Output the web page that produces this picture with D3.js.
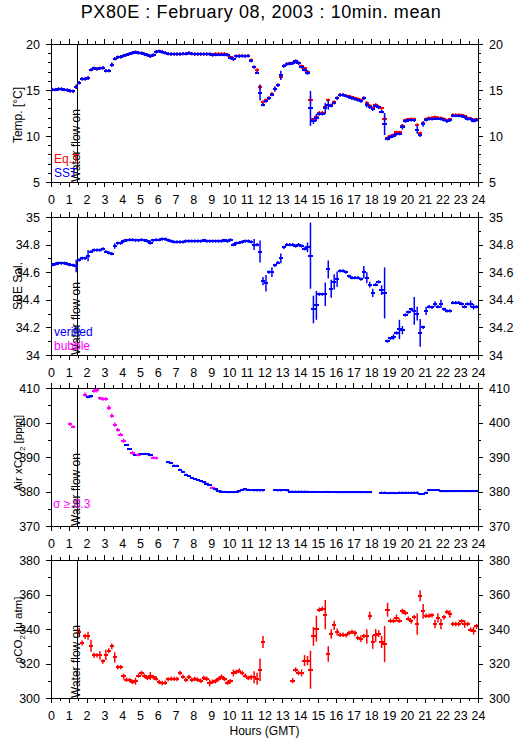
<!DOCTYPE html>
<html><head><meta charset="utf-8">
<script src="https://cdn.jsdelivr.net/npm/d3@7/dist/d3.min.js"></script>
<style>
body{margin:0;background:#fff}
svg{display:block}
text{font-family:"Liberation Sans",Arial,Helvetica,sans-serif}
</style>
</head><body>
<svg id="c" width="515" height="739"></svg>
<script>
// ---------- DATA (10-minute means, index i covers hours i/6 .. (i+1)/6) ----------
const hourTicks = d3.range(0, 25);
const halfTicks = d3.range(0.5, 24, 1);
const waterFlowOn = 1.5;

const sst = [
15.05,15.05,15.1,15.1,15.05,15.0, 14.9,14.85,15.35,15.8,16.2,16.2,
16.3,17.2,17.35,17.3,17.35,17.4, 17.1,17.1,17.75,18.4,18.55,18.6,
18.75,18.85,18.95,19.05,19.1,19.05, 19.0,18.9,18.8,18.65,18.8,19.15,
19.2,19.15,19.05,18.95,18.9,18.9, 18.9,18.9,18.95,18.95,19.0,18.95,
18.9,18.9,18.9,18.9,18.9,18.9, 18.8,18.85,18.85,18.85,18.85,18.8,
18.5,18.35,18.65,18.65,18.7,18.65, 18.7,18.2,17.5,16.9,14.7,13.4,
13.8,14.1,14.5,15.1,15.5,16.6, 17.6,17.8,17.85,17.9,18.1,17.9,
17.5,17.2,16.9,13.0,11.6,12.0, 12.4,12.4,13.0,13.4,13.3,13.6,
14.1,14.45,14.45,14.35,14.2,14.1, 14.0,13.9,13.8,14.1,13.4,13.1,
12.9,13.3,13.1,12.65,11.3,9.7, 9.9,10.0,10.2,10.25,11.0,11.6,
11.7,11.75,11.7,10.7,10.1,11.3, 11.75,11.85,11.85,11.9,11.9,11.85,
11.75,11.6,11.7,12.2,12.2,12.2, 12.15,12.05,11.85,11.85,11.65,11.75];

const eqT = [
15.05,15.05,15.1,15.1,15.05,15.0, 14.9,14.85,15.35,15.8,16.2,16.2,
16.3,17.2,17.35,17.3,17.35,17.4, 17.1,17.1,17.75,18.4,18.55,18.6,
18.75,18.85,18.95,19.05,19.1,19.05, 19.0,18.9,18.8,18.65,18.8,19.15,
19.2,19.15,19.05,18.95,18.9,18.9, 18.9,18.9,18.95,18.95,19.0,18.95,
18.9,18.9,18.9,18.9,18.9,18.9, 18.85,18.95,18.95,18.95,18.95,18.85,
18.55,18.4,18.7,18.75,18.75,18.7, 18.75,18.25,17.5,17.2,15.3,13.7,
13.9,14.15,14.6,15.15,15.55,16.4, 17.65,17.85,17.9,17.95,18.15,17.95,
17.6,17.35,17.0,13.9,11.8,12.1, 12.55,12.55,13.1,13.9,13.35,13.7,
14.15,14.5,14.5,14.4,14.3,14.2, 14.1,14.0,13.9,14.15,13.6,13.3,
13.0,13.4,13.2,13.0,11.9,9.8, 10.0,10.1,10.4,10.4,11.1,11.7,
11.8,11.85,11.8,11.2,10.3,11.4, 11.85,11.95,12.0,12.05,12.0,11.95,
11.85,11.7,11.8,12.3,12.3,12.3, 12.25,12.15,11.95,11.9,11.75,11.8];

// [index, standard deviation]
const sstSd = [[8,0.25],[12,0.2],[20,0.25],[70,0.85],[75,0.3],[77,0.5],[82,0.2],[86,0.25],
 [87,1.9],[88,0.3],[89,0.4],[90,0.2],[92,0.6],[93,0.55],[106,0.3],[112,1.2],[118,0.3],
 [123,0.45],[124,0.2],[125,0.3]];
const eqTSd = [[70,0.3],[87,0.4],[112,0.3]];

const salinity = [
34.655,34.66,34.665,34.665,34.665,34.66, 34.655,34.65,34.645,34.69,34.70,34.70,
34.72,34.75,34.76,34.76,34.76,34.77, 34.75,34.74,34.735,34.79,34.81,34.81,
34.825,34.83,34.835,34.835,34.83,34.83, 34.835,34.83,34.825,34.815,34.83,34.835,
34.835,34.84,34.84,34.83,34.825,34.82, 34.82,34.82,34.82,34.825,34.825,34.825,
34.825,34.825,34.825,34.83,34.825,34.825, 34.825,34.825,34.825,34.825,34.83,34.825,
34.835,34.80,34.81,34.815,34.82,34.825, 34.825,34.82,34.80,34.80,34.75,34.535,
34.52,34.60,34.60,34.65,34.67,34.70, 34.78,34.80,34.80,34.80,34.79,34.80,
34.79,34.77,34.78,34.72,34.33,34.36, 34.44,34.44,34.44,34.62,34.48,34.53,
34.55,34.61,34.61,34.60,34.57,34.56, 34.56,34.56,34.55,34.60,34.56,34.51,
34.45,34.51,34.53,34.47,34.45,34.10, 34.12,34.13,34.16,34.185,34.18,34.29,
34.31,34.33,34.32,34.30,34.16,34.20, 34.32,34.35,34.345,34.37,34.35,34.37,
34.33,34.32,34.32,34.38,34.38,34.38, 34.37,34.35,34.37,34.37,34.35,34.35];
const salinitySd = [[8,0.045],[12,0.04],[21,0.02],[33,0.015],[61,0.01],[68,0.04],[70,0.08],
 [71,0.03],[72,0.06],[74,0.035],[77,0.035],[86,0.035],[87,0.24],[88,0.1],[89,0.105],
 [92,0.085],[93,0.065],[94,0.065],[95,0.055],[96,0.055],[105,0.045],[106,0.04],[107,0.02],
 [108,0.03],[111,0.035],[112,0.185],[115,0.02],[117,0.07],[118,0.03],[122,0.1],[123,0.05],
 [124,0.1],[126,0.03],[129,0.02],[131,0.03],[141,0.025],[142,0.02]];

const airCO2 = [
null,null,null,null,null,null, 399.5,398.8,null,null,null,408.1,
407.4,407.6,409.2,409.3,407.0,406.8, 406.8,404.3,402.0,399.4,397.9,396.5,
394.7,393.5,392.3,391.2,390.6,390.7, 390.9,390.9,390.8,390.5,389.8,389.7,
null,null,null,388.5,388.3,387.5, 387.5,386.3,385.7,384.9,384.5,383.9,
383.6,383.3,383.0,382.7,382.3,381.9, 381.1,380.6,380.1,380.0,379.9,379.8,
379.8,379.8,379.9,380.1,380.5,380.6, 380.5,380.4,380.3,380.3,380.3,380.3,
null,null,null,380.4,380.3,380.3, 380.4,380.3,380.0,380.0,380.0,380.0,
380.0,380.0,379.95,379.9,379.9,379.9, 379.85,379.85,379.9,379.9,379.85,379.85,
379.8,379.8,379.8,379.8,379.8,379.8, 379.8,379.8,379.8,379.8,379.8,379.8,
null,null,null,379.7,379.7,379.5, 379.5,379.5,379.5,379.7,379.7,379.7,
379.7,379.7,379.7,379.7,379.3,379.3, 379.7,380.4,380.4,380.4,380.4,380.1,
380.1,380.1,380.1,380.1,380.1,380.1, 380.1,380.1,380.1,380.1,380.1,380.1];
// indices where sigma >= 0.3 (drawn magenta)
const airHighSigma = [6,7,11,14,15,16,17,18,19,20,21,22,23,24,27,29,34,35,54];
const airSd = [[6,0.5],[7,0.4],[11,0.6],[12,0.4],[13,0.4],[14,0.6],[15,0.6],[16,0.5],[17,0.5],
 [18,0.5],[19,0.7],[20,0.6],[21,0.6],[22,0.5],[23,0.5],[24,0.6],[25,0.3],[26,0.3],[27,0.5],
 [28,0.3],[29,0.5],[34,0.4],[35,0.4],[39,0.3],[40,0.3],[41,0.3],[43,0.3],[54,0.4],[127,0.3]];

const pCO2 = [
null,null,null,null,null,null, null,null,null,338.2,331.9,335.7,
336.1,330.3,324.7,324.7,324.7,321.2, 325.0,327.4,329.9,323.5,317.9,317.9,
312.5,310.6,310.4,309.3,309.7,313.0, 314.5,312.8,311.6,312.8,312.0,311.3,
309.3,308.7,308.9,310.8,311.2,311.1, 311.0,314.5,312.4,310.6,312.2,310.6,
311.0,310.6,310.0,311.6,311.2,308.7, 309.5,309.7,311.0,312.4,311.0,308.9,
309.7,314.5,315.1,315.9,314.5,313.0, 311.6,312.0,312.0,311.2,316.4,332.5,
null,null,null,null,null,null, null,null,null,310.1,316.4,314.5,
314.5,321.7,321.7,316.4,335.7,340.2, 351.2,351.8,348.3,325.5,337.1,342.1,
338.3,336.7,336.7,336.3,337.7,338.3, 337.5,334.8,334.4,335.9,335.7,347.7,
332.5,336.3,337.3,332.5,331.3,351.2, 344.8,344.8,346.4,344.8,350.2,349.3,
346.0,344.4,346.8,342.9,359.3,350.2, 347.7,347.7,347.9,342.9,346.4,342.9,
346.8,349.9,348.7,342.9,342.9,342.9, 344.4,342.9,342.9,339.6,339.0,341.5];
const pCO2Sd = [[9,2.5],[10,1.5],[11,1.5],[12,2.3],[13,3.5],[14,1.5],[15,1.2],[16,2.5],[17,1],
 [18,3],[19,1.5],[20,1.7],[21,3],[24,1.7],[28,2],[33,2.3],[43,1],[53,2],[61,2],[67,1.5],
 [68,3.5],[69,3.5],[70,6.5],[71,3.5],[81,1.5],[82,1.4],[84,2],[85,3.2],[86,2.7],[87,11],
 [88,5.5],[89,7.5],[90,1],[91,1],[92,8.5],[93,4.5],[94,2.7],[95,2.7],[96,2],[102,1.7],
 [104,2],[106,4.2],[107,2.3],[108,4],[109,3.7],[110,2],[111,3.5],[112,10.5],[113,4],
 [116,2],[118,1.5],[123,6.3],[124,3.2],[125,4.3],[129,2.5],[130,2.7],[131,3],[134,2.2],
 [139,2.2],[142,2.2],[143,1.5]];

// ---------- LAYOUT ----------
const svg = d3.select("#c");
const W = 515, H = 739;
const x = d3.scaleLinear([0, 24], [51, 478]);
const BLUE = "#0000ff", RED = "#ff0000", MAG = "#ff00ff";

const panels = [
  {top: 44, bottom: 182, domain: [5, 20], major: d3.range(5, 21, 5), minor: d3.range(5, 21, 1), fmt: d3.format("d")},
  {top: 217, bottom: 355, domain: [34, 35], major: d3.range(0, 6).map(k => 34 + k * 0.2),
   minor: d3.range(0, 11).map(k => 34 + k * 0.1), fmt: d => (Math.abs(d - Math.round(d)) < 1e-6 ? String(Math.round(d)) : d.toFixed(1))},
  {top: 388, bottom: 526, domain: [370, 410], major: d3.range(370, 411, 10), minor: d3.range(370, 411, 5), fmt: d3.format("d")},
  {top: 560, bottom: 698, domain: [300, 380], major: d3.range(300, 381, 20), minor: d3.range(300, 381, 10), fmt: d3.format("d")}
];
panels.forEach(p => p.y = d3.scaleLinear(p.domain, [p.bottom, p.top]));

svg.append("rect").attr("width", W).attr("height", H).attr("fill", "#fff");

svg.append("text").attr("x", 261).attr("y", 18).attr("text-anchor", "middle")
  .attr("font-size", 18).attr("letter-spacing", 0.6).text("PX80E : February 08, 2003 : 10min. mean");

function styleAxis(g) {
  g.select(".domain").remove();
  g.selectAll("line").attr("stroke", "#000").attr("shape-rendering", "crispEdges");
  g.selectAll("text").attr("font-size", 12.5).attr("fill", "#000")
   .attr("font-family", '"Liberation Sans",Arial,Helvetica,sans-serif');
  g.attr("font-family", null).attr("font-size", null);
}

panels.forEach((p, k) => {
  const g = svg.append("g");
  const y = p.y;
  g.append("g").attr("transform", `translate(0,${p.bottom})`)
    .call(d3.axisBottom(x).tickValues(hourTicks).tickSize(5).tickPadding(8).tickFormat(d3.format("d"))).call(styleAxis);
  g.append("g").attr("transform", `translate(0,${p.bottom})`)
    .call(d3.axisBottom(x).tickValues(halfTicks).tickSize(3).tickFormat("")).call(styleAxis);
  g.append("g").attr("transform", `translate(0,${p.top})`)
    .call(d3.axisTop(x).tickValues(hourTicks).tickSize(5).tickFormat("")).call(styleAxis);
  g.append("g").attr("transform", `translate(0,${p.top})`)
    .call(d3.axisTop(x).tickValues(halfTicks).tickSize(3).tickFormat("")).call(styleAxis);
  g.append("g").attr("transform", `translate(${x(0)},0)`)
    .call(d3.axisLeft(y).tickValues(p.major).tickSize(5).tickPadding(6).tickFormat(p.fmt)).call(styleAxis);
  g.append("g").attr("transform", `translate(${x(0)},0)`)
    .call(d3.axisLeft(y).tickValues(p.minor).tickSize(3).tickFormat("")).call(styleAxis);
  g.append("g").attr("transform", `translate(${x(24)},0)`)
    .call(d3.axisRight(y).tickValues(p.major).tickSize(5).tickPadding(6).tickFormat(p.fmt)).call(styleAxis);
  g.append("g").attr("transform", `translate(${x(24)},0)`)
    .call(d3.axisRight(y).tickValues(p.minor).tickSize(3).tickFormat("")).call(styleAxis);
  g.append("rect").attr("x", x(0)).attr("y", p.top).attr("width", x(24) - x(0)).attr("height", p.bottom - p.top)
    .attr("fill", "none").attr("stroke", "#000").attr("shape-rendering", "crispEdges");
  svg.append("clipPath").attr("id", "clip" + k).append("rect")
    .attr("x", x(0)).attr("y", p.top).attr("width", x(24) - x(0)).attr("height", p.bottom - p.top);
  p.plot = svg.append("g").attr("clip-path", `url(#clip${k})`);
  g.append("line").attr("x1", x(waterFlowOn)).attr("x2", x(waterFlowOn)).attr("y1", p.top).attr("y2", p.bottom)
    .attr("stroke", "#000").attr("shape-rendering", "crispEdges");
});

function drawSeries(p, vals, sdPairs, colorFn, minHalf) {
  const sd = new Map(sdPairs);
  const y = p.y;
  const pts = vals.map((v, i) => ({i, v, s: sd.get(i) || 0})).filter(d => d.v != null);
  const cx = d => x((d.i + 0.5) / 6);
  const half = Math.max((x(1 / 6) - x(0)) / 2, 2.2);
  const g = p.plot.append("g");
  g.selectAll(null).data(pts).join("line")
    .attr("x1", d => cx(d) - half).attr("x2", d => cx(d) + half)
    .attr("y1", d => y(d.v)).attr("y2", d => y(d.v))
    .attr("stroke", d => colorFn(d.i)).attr("stroke-width", 2).attr("shape-rendering", "crispEdges");
  g.selectAll(null).data(pts).join("line")
    .attr("x1", cx).attr("x2", cx)
    .attr("y1", d => Math.min(y(d.v + d.s), y(d.v) - minHalf))
    .attr("y2", d => Math.max(y(d.v - d.s), y(d.v) + minHalf))
    .attr("stroke", d => colorFn(d.i)).attr("stroke-width", 1.5);
}

drawSeries(panels[0], eqT, eqTSd, () => RED, 1.6);
drawSeries(panels[0], sst, sstSd, () => BLUE, 1.6);
drawSeries(panels[1], salinity, salinitySd, () => BLUE, 1.6);
const hi = new Set(airHighSigma);
drawSeries(panels[2], airCO2, airSd, i => hi.has(i) ? MAG : BLUE, 1.0);
drawSeries(panels[3], pCO2, pCO2Sd, () => RED, 2.2);

panels.forEach(p => {
  svg.append("text").attr("transform", `translate(${x(waterFlowOn) + 2},${p.bottom}) rotate(-90)`)
    .attr("font-size", 12).attr("fill", "#000").text("Water flow on");
});

function yTitle(p, parts, cy, fs) {
  const t = svg.append("text").attr("transform", `translate(22,${cy}) rotate(-90)`)
    .attr("text-anchor", "middle").attr("font-size", fs).attr("fill", "#000");
  parts.forEach(([s, sub]) => {
    const ts = t.append("tspan").text(s);
    if (sub) ts.attr("font-size", 8).attr("dy", 3);
    else if (sub === false) ts.attr("dy", -3);
  });
}
yTitle(panels[0], [["Temp. [°C]"]], 115, 12);
yTitle(panels[1], [["SBE Sal."]], 286, 12);
yTitle(panels[2], [["Air xCO"], ["2", true], [" [ppm]", false]], 453, 11.5);
yTitle(panels[3], [["ρCO"], ["2", true], [" [μ atm]", false]], 630, 11.5);

function legend(px, py, txt, col) {
  svg.append("text").attr("x", px).attr("y", py).attr("font-size", 12).attr("fill", col).text(txt);
}
legend(54, 162.5, "Eq.T", RED);
legend(54, 176.5, "SST", BLUE);
legend(54, 336, "verified", BLUE);
legend(54, 349.5, "bubble", MAG);
legend(53, 508, "σ ≥ 0.3", MAG);

svg.append("text").attr("x", 264.5).attr("y", 734.5).attr("text-anchor", "middle")
  .attr("font-size", 12).attr("fill", "#000").text("Hours (GMT)");
</script>
</body></html>
